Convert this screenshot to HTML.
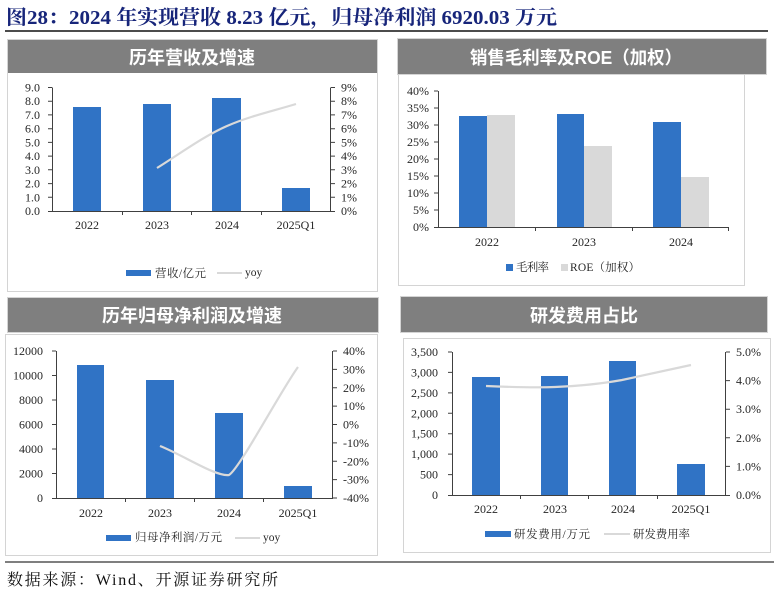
<!DOCTYPE html>
<html><head><meta charset="utf-8"><style>
html,body{margin:0;padding:0;background:#fff;}
svg{display:block;}
.t{font-family:"Liberation Serif","Noto Serif CJK SC",serif;font-size:12px;fill:#262626;}
.h{font-family:"Liberation Sans","Noto Sans CJK SC",sans-serif;font-size:18px;font-weight:bold;fill:#fff;}
.lg{font-family:"Liberation Serif","Noto Serif CJK SC",serif;font-size:11.5px;fill:#262626;}
</style></head><body>
<svg width="774" height="592" viewBox="0 0 774 592" xmlns="http://www.w3.org/2000/svg">
<rect width="774" height="592" fill="#fff"/>
<!-- Title -->
<text x="6" y="24" textLength="551" lengthAdjust="spacingAndGlyphs" style="font-family:'Liberation Serif','Noto Serif CJK SC',serif;font-size:20px;font-weight:bold;fill:#17257a">图28：2024 年实现营收 8.23 亿元，归母净利润 6920.03 万元</text>
<line x1="5" y1="31" x2="768" y2="31" stroke="#111" stroke-width="1.5"/>

<!-- Panel 1 -->
<rect x="7.5" y="39.5" width="370" height="252" fill="#fff" stroke="#d4d4d4"/>
<rect x="8" y="40" width="369" height="33" fill="#7f7f7f"/>
<text class="h" x="192" y="64" text-anchor="middle">历年营收及增速</text>
<g fill="#3073c5">
<rect x="73" y="107" width="28" height="104"/>
<rect x="143" y="104" width="28" height="107"/>
<rect x="212" y="98" width="29" height="113"/>
<rect x="282" y="188" width="28" height="23"/>
</g>
<path d="M157,168 C181,153 204,136 227,126 C250,116 273,111 296,104" fill="none" stroke="#d9d9d9" stroke-width="2.2"/>
<g stroke="#404040" stroke-width="1" fill="none">
<line x1="52.5" y1="87.5" x2="52.5" y2="211"/>
<line x1="330.5" y1="87.5" x2="330.5" y2="211"/>
<line x1="52" y1="211.5" x2="331" y2="211.5"/>
<path d="M48,211.5h4M48,197.3h4M48,183.6h4M48,169.8h4M48,156.1h4M48,142.4h4M48,128.7h4M48,114.9h4M48,101.2h4M48,87.5h4"/>
<path d="M331,211.5h4M331,197.3h4M331,183.6h4M331,169.8h4M331,156.1h4M331,142.4h4M331,128.7h4M331,114.9h4M331,101.2h4M331,87.5h4"/>
<path d="M122.5,211v4M191.5,211v4M261.5,211v4"/>
</g>
<g class="t" text-anchor="end">
<text x="40" y="215">0.0</text><text x="40" y="201.3">1.0</text><text x="40" y="187.6">2.0</text><text x="40" y="173.8">3.0</text><text x="40" y="160.1">4.0</text><text x="40" y="146.4">5.0</text><text x="40" y="132.7">6.0</text><text x="40" y="118.9">7.0</text><text x="40" y="105.2">8.0</text><text x="40" y="91.5">9.0</text>
</g>
<g class="t">
<text x="341" y="215">0%</text><text x="341" y="201.3">1%</text><text x="341" y="187.6">2%</text><text x="341" y="173.8">3%</text><text x="341" y="160.1">4%</text><text x="341" y="146.4">5%</text><text x="341" y="132.7">6%</text><text x="341" y="118.9">7%</text><text x="341" y="105.2">8%</text><text x="341" y="91.5">9%</text>
</g>
<g class="t" text-anchor="middle">
<text x="87" y="229">2022</text><text x="157" y="229">2023</text><text x="227" y="229">2024</text><text x="296" y="229">2025Q1</text>
</g>
<rect x="126" y="270" width="25" height="6" fill="#3073c5"/>
<text class="lg" x="155" y="277" textLength="51" lengthAdjust="spacing">营收/亿元</text>
<line x1="217" y1="273" x2="242" y2="273" stroke="#d9d9d9" stroke-width="2"/>
<text class="lg" x="245" y="276">yoy</text>

<!-- Panel 2 -->
<rect x="397.5" y="38.5" width="369" height="36" fill="#7f7f7f" stroke="#d4d4d4"/>
<text class="h" x="576" y="64" text-anchor="middle" textLength="212" lengthAdjust="spacingAndGlyphs">销售毛利率及ROE（加权）</text>
<rect x="398.5" y="74.5" width="346" height="211" fill="#fff" stroke="#d4d4d4"/>
<g fill="#3073c5">
<rect x="459" y="116" width="28" height="111"/>
<rect x="557" y="114" width="27" height="113"/>
<rect x="653" y="122" width="28" height="105"/>
</g>
<g fill="#d9d9d9">
<rect x="487" y="115" width="28" height="112"/>
<rect x="584" y="146" width="28" height="81"/>
<rect x="681" y="177" width="28" height="50"/>
</g>
<g stroke="#404040" stroke-width="1" fill="none">
<line x1="438.5" y1="91" x2="438.5" y2="227"/>
<line x1="438" y1="227.5" x2="729" y2="227.5"/>
<path d="M434,227.5h4M434,210h4M434,193h4M434,176h4M434,159h4M434,142h4M434,125h4M434,108h4M434,91h4"/>
<path d="M535.5,227v4M632.5,227v4M728.5,227v4"/>
</g>
<g class="t" text-anchor="end">
<text x="429" y="231">0%</text><text x="429" y="214">5%</text><text x="429" y="197">10%</text><text x="429" y="180">15%</text><text x="429" y="163">20%</text><text x="429" y="146">25%</text><text x="429" y="129">30%</text><text x="429" y="112">35%</text><text x="429" y="95">40%</text>
</g>
<g class="t" text-anchor="middle">
<text x="487" y="246">2022</text><text x="584" y="246">2023</text><text x="681" y="246">2024</text>
</g>
<rect x="506" y="264" width="7" height="7" fill="#3073c5"/>
<text class="lg" x="516" y="271" textLength="33" lengthAdjust="spacing">毛利率</text>
<rect x="561" y="264" width="7" height="7" fill="#d9d9d9"/>
<text class="lg" x="570" y="271" textLength="70" lengthAdjust="spacing">ROE（加权）</text>

<!-- Panel 3 -->
<rect x="7.5" y="297.5" width="371" height="35" fill="#7f7f7f" stroke="#d4d4d4"/>
<text class="h" x="192" y="322" text-anchor="middle">历年归母净利润及增速</text>
<rect x="5.5" y="334.5" width="372" height="221" fill="#fff" stroke="#d4d4d4"/>
<g fill="#3073c5">
<rect x="77" y="365" width="27" height="133"/>
<rect x="146" y="380" width="28" height="118"/>
<rect x="215" y="413" width="28" height="85"/>
<rect x="284" y="486" width="28" height="12"/>
</g>
<path d="M160,446 C183,455 216,477 229,475 C240,468 280,392 298,367" fill="none" stroke="#d9d9d9" stroke-width="2.2"/>
<g stroke="#404040" stroke-width="1" fill="none">
<line x1="56.5" y1="351" x2="56.5" y2="498"/>
<line x1="332.5" y1="351" x2="332.5" y2="498"/>
<line x1="56" y1="498.5" x2="333" y2="498.5"/>
<path d="M52,498.5h4M52,473.5h4M52,449h4M52,424.5h4M52,400h4M52,375.5h4M52,351h4"/>
<path d="M333,351h4M333,369.4h4M333,387.75h4M333,406.1h4M333,424.5h4M333,442.9h4M333,461.25h4M333,479.6h4M333,498h4"/>
<path d="M125.5,498v4M194.5,498v4M263.5,498v4"/>
</g>
<g class="t" text-anchor="end">
<text x="43" y="502">0</text><text x="43" y="477.5">2000</text><text x="43" y="453">4000</text><text x="43" y="428.5">6000</text><text x="43" y="404">8000</text><text x="43" y="379.5">10000</text><text x="43" y="355">12000</text>
</g>
<g class="t">
<text x="343" y="355">40%</text><text x="343" y="373.4">30%</text><text x="343" y="391.75">20%</text><text x="343" y="410.1">10%</text><text x="343" y="428.5">0%</text><text x="343" y="446.9">-10%</text><text x="343" y="465.25">-20%</text><text x="343" y="483.6">-30%</text><text x="343" y="502">-40%</text>
</g>
<g class="t" text-anchor="middle">
<text x="91" y="517">2022</text><text x="160" y="517">2023</text><text x="229" y="517">2024</text><text x="298" y="517">2025Q1</text>
</g>
<rect x="106" y="535" width="25" height="6" fill="#3073c5"/>
<text class="lg" x="135" y="541" textLength="87" lengthAdjust="spacing">归母净利润/万元</text>
<line x1="235" y1="538" x2="260" y2="538" stroke="#d9d9d9" stroke-width="2"/>
<text class="lg" x="263" y="541">yoy</text>

<!-- Panel 4 -->
<rect x="400.5" y="296.5" width="367" height="36" fill="#7f7f7f" stroke="#d4d4d4"/>
<text class="h" x="584" y="322" text-anchor="middle">研发费用占比</text>
<rect x="403.5" y="338.5" width="367" height="214" fill="#fff" stroke="#d4d4d4"/>
<g fill="#3073c5">
<rect x="472" y="377" width="28" height="118"/>
<rect x="541" y="376" width="27" height="119"/>
<rect x="609" y="361" width="27" height="134"/>
<rect x="677" y="464" width="28" height="31"/>
</g>
<path d="M486,386 C509,387 532,388 555,387 C578,386 600,384 622,380 C645,375 668,370 691,365" fill="none" stroke="#d9d9d9" stroke-width="2.2"/>
<g stroke="#404040" stroke-width="1" fill="none">
<line x1="452.5" y1="352" x2="452.5" y2="495"/>
<line x1="725.5" y1="352" x2="725.5" y2="495"/>
<line x1="452" y1="495.5" x2="726" y2="495.5"/>
<path d="M448,495.5h4M448,474.6h4M448,454.1h4M448,433.7h4M448,413.3h4M448,392.9h4M448,372.4h4M448,352h4"/>
<path d="M726,495.5h4M726,466.4h4M726,437.8h4M726,409.2h4M726,380.6h4M726,352h4"/>
<path d="M520.5,495v4M588.5,495v4M657.5,495v4"/>
</g>
<g class="t" text-anchor="end">
<text x="438" y="499">0</text><text x="438" y="478.6">500</text><text x="438" y="458.1">1,000</text><text x="438" y="437.7">1,500</text><text x="438" y="417.3">2,000</text><text x="438" y="396.9">2,500</text><text x="438" y="376.4">3,000</text><text x="438" y="356">3,500</text>
</g>
<g class="t">
<text x="736" y="499">0.0%</text><text x="736" y="470.4">1.0%</text><text x="736" y="441.8">2.0%</text><text x="736" y="413.2">3.0%</text><text x="736" y="384.6">4.0%</text><text x="736" y="356">5.0%</text>
</g>
<g class="t" text-anchor="middle">
<text x="486" y="513">2022</text><text x="555" y="513">2023</text><text x="623" y="513">2024</text><text x="691" y="513">2025Q1</text>
</g>
<rect x="485" y="531" width="26" height="6" fill="#3073c5"/>
<text class="lg" x="514" y="538" textLength="76" lengthAdjust="spacing">研发费用/万元</text>
<line x1="604" y1="534" x2="630" y2="534" stroke="#d9d9d9" stroke-width="2"/>
<text class="lg" x="633" y="538" textLength="57" lengthAdjust="spacing">研发费用率</text>

<!-- Footer -->
<line x1="5" y1="562" x2="774" y2="562" stroke="#555" stroke-width="1.5"/>
<text x="7" y="585" textLength="271" lengthAdjust="spacing" style="font-family:'Liberation Serif','Noto Serif CJK SC',serif;font-size:16px;fill:#111">数据来源：Wind、开源证券研究所</text>
</svg>
</body></html>
